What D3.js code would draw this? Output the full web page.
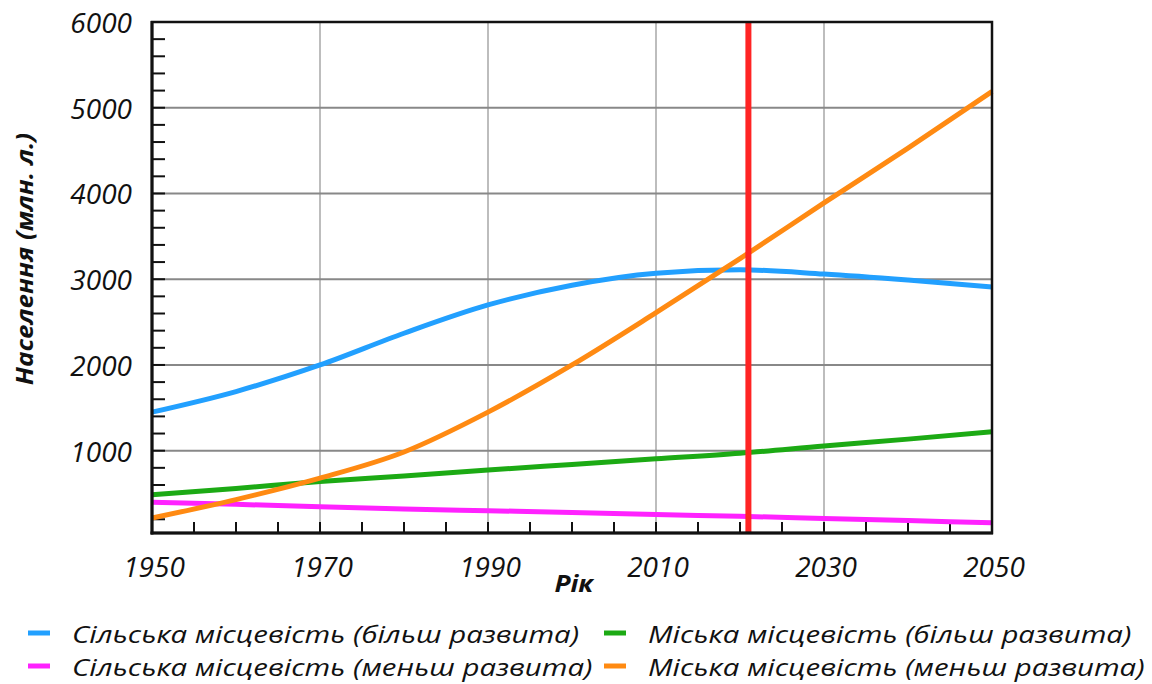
<!DOCTYPE html>
<html><head><meta charset="utf-8">
<script src="https://cdn.jsdelivr.net/npm/d3@7"></script>
<style>body{margin:0;background:#fff}text{font-family:"Open Sans",sans-serif;font-style:italic;fill:#111}</style>
</head><body><svg id="c" width="1152" height="684"></svg>
<script>
const years = [1950,1960,1970,1980,1990,2000,2010,2020,2030,2040,2050];
const ruralMore = [1450,1690,2000,2370,2700,2930,3070,3110,3060,2990,2910];
const ruralLess = [400,375,345,320,300,280,255,235,210,185,160];
const urbanMore = [485,560,640,705,775,840,905,970,1055,1135,1220];
const urbanLess = [215,430,680,985,1450,2000,2610,3240,3890,4530,5190];
const yTicks = [1000,2000,3000,4000,5000,6000];
const xTicks = [1950,1970,1990,2010,2030,2050];
const markYear = 2021;
const seriesNames = ["Сільська місцевість (більш развита)","Сільська місцевість (меньш развита)","Міська місцевість (більш развита)","Міська місцевість (меньш развита)"];
const seriesColors = ["#22a0ff","#ff22ff","#1caa14","#ff8a12"];
const seriesData = [ruralMore, ruralLess, urbanMore, urbanLess];

const svg = d3.select("#c");
const L=152,R=992,T=22,B=533;
const x = d3.scaleLinear().domain([1950,2050]).range([L,R]);
const y = d3.scaleLinear().domain([40,6000]).range([B,T]);

function stretch(sel, factor){
  sel.each(function(){
    const w=this.getComputedTextLength();
    d3.select(this).attr("textLength",w*factor).attr("lengthAdjust","spacingAndGlyphs");
  });
}

// vertical grid
svg.append("g").selectAll("line").data([1970,1990,2010,2030]).join("line")
  .attr("x1",d=>x(d)).attr("x2",d=>x(d)).attr("y1",T).attr("y2",B)
  .attr("stroke","#bdbdbd").attr("stroke-width",2);
// horizontal grid
svg.append("g").selectAll("line").data([1000,2000,3000,4000,5000]).join("line")
  .attr("x1",L).attr("x2",R).attr("y1",d=>y(d)).attr("y2",d=>y(d))
  .attr("stroke","#888").attr("stroke-width",2);

// minor ticks
const yMinor = d3.range(200,6000,200);
svg.append("g").selectAll("line").data(yMinor).join("line")
  .attr("x1",L).attr("x2",L+13).attr("y1",d=>y(d)).attr("y2",d=>y(d))
  .attr("stroke","#111").attr("stroke-width",2);
const xMinor = d3.range(1955,2050,5);
svg.append("g").selectAll("line").data(xMinor).join("line")
  .attr("x1",d=>x(d)).attr("x2",d=>x(d)).attr("y1",B).attr("y2",B-11)
  .attr("stroke","#111").attr("stroke-width",2);

// lines
const line = d3.line().x((d,i)=>x(years[i])).y(d=>y(d)).curve(d3.curveMonotoneX);
seriesData.forEach((s,k)=>{
  svg.append("path").datum(s).attr("d",line).attr("fill","none")
    .attr("stroke",seriesColors[k]).attr("stroke-width",5);
});

// red marker
svg.append("line").attr("x1",x(markYear)).attr("x2",x(markYear)).attr("y1",T).attr("y2",B)
  .attr("stroke","#ff2424").attr("stroke-width",6);

// frame
svg.append("rect").attr("x",L).attr("y",T).attr("width",R-L).attr("height",B-T)
  .attr("fill","none").attr("stroke","#111").attr("stroke-width",2.5);
svg.append("line").attr("x1",L).attr("x2",L).attr("y1",T-1).attr("y2",B+1.5).attr("stroke","#111").attr("stroke-width",3);
svg.append("line").attr("x1",L-1.5).attr("x2",R+1).attr("y1",B).attr("y2",B).attr("stroke","#111").attr("stroke-width",3);

// tick labels
svg.append("g").selectAll("text").data(yTicks).join("text")
  .attr("x",132).attr("y",d=>y(d)+11).attr("text-anchor","end")
  .attr("font-size",28).text(d=>d);
svg.append("g").selectAll("text").data(xTicks).join("text")
  .attr("x",d=>x(d)+2).attr("y",577).attr("text-anchor","middle")
  .attr("font-size",28).text(d=>d);

// axis titles
svg.append("text").attr("x",574).attr("y",592).attr("text-anchor","middle")
  .attr("font-size",24).attr("font-weight","bold").text("Рік").call(stretch,1.1);
svg.append("text").attr("transform","translate(33,259) rotate(-90)").attr("text-anchor","middle")
  .attr("font-size",23).attr("font-weight","bold").text("Населення (млн. л.)").call(stretch,1.13);

// legend
const legPos = [[28,72,643],[28,72,676],[604,648,643],[604,648,676]];
seriesNames.forEach((name,k)=>{
  const [mx,tx,ly]=legPos[k];
  svg.append("line").attr("x1",mx).attr("x2",mx+22).attr("y1",ly-10).attr("y2",ly-10)
    .attr("stroke",seriesColors[k]).attr("stroke-width",5);
  svg.append("text").attr("x",tx).attr("y",ly).attr("font-size",24).text(name).call(stretch,1.225);
});
</script></body></html>
